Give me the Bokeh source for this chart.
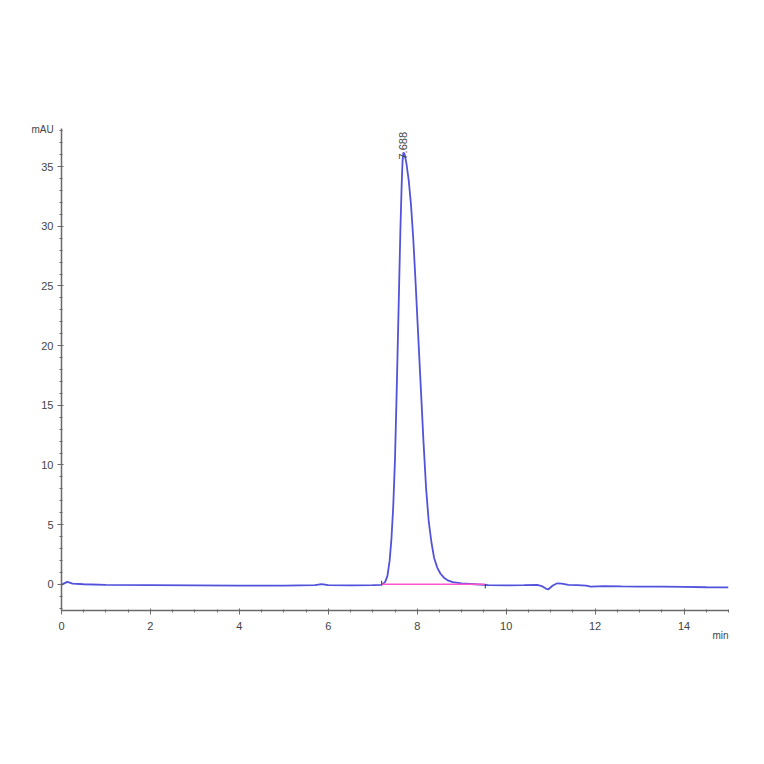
from math import pi

from bokeh.core.properties import value
from bokeh.embed import file_html
from bokeh.models import FixedTicker, Title
from bokeh.plotting import figure
from bokeh.resources import INLINE

# chromatogram trace (min, mAU)
time_min = [0, 0.05, 0.13, 0.25, 0.5, 1, 2, 3, 4, 5, 5.7, 5.85, 6, 6.5, 7.0,
            7.2, 7.28, 7.33, 7.38, 7.42, 7.46, 7.50, 7.54, 7.58, 7.62, 7.65,
            7.67, 7.69, 7.72, 7.76, 7.81, 7.86, 7.91, 7.96, 8.02, 8.08, 8.14,
            8.2, 8.26, 8.32, 8.38, 8.45, 8.52, 8.6, 8.7, 8.8, 9.0, 9.3, 9.6,
            10.0, 10.4, 10.7, 10.8, 10.9, 10.95, 11.05, 11.15, 11.25, 11.4,
            11.6, 11.8, 11.9, 12.2, 12.6, 13, 13.5, 14, 14.5, 15]
signal_mau = [-0.05, 0.05, 0.2, 0.05, 0.0, -0.05, -0.08, -0.1, -0.12, -0.12,
              -0.08, 0.02, -0.08, -0.1, -0.08, -0.05, 0.2, 0.7, 2.0, 3.8, 6.5,
              10.5, 16.5, 23.0, 29.5, 33.5, 35.5, 36.2, 36.0, 35.2, 33.8, 31.8,
              29.0, 25.5, 21.0, 16.5, 12.0, 8.0, 5.2, 3.5, 2.2, 1.4, 0.9, 0.55,
              0.3, 0.18, 0.08, 0.0, -0.08, -0.1, -0.08, -0.05, -0.15, -0.38,
              -0.42, -0.1, 0.08, 0.05, -0.05, -0.08, -0.12, -0.2, -0.15, -0.18,
              -0.2, -0.2, -0.22, -0.25, -0.27]

# peak annotation
peak_times = [7.688]
peak_tops = [35.6]
peak_labels = ["7.688"]

# integration baseline of the peak
base_start = [7.2]
base_end = [9.53]
base_level = [0.0]

x_ticks = [0, 2, 4, 6, 8, 10, 12, 14]
y_ticks = [0, 5, 10, 15, 20, 25, 30, 35]

FONT = "Liberation Sans"
AXIS_COLOR = "#6a6a6a"
TEXT_COLOR = "#444444"

p = figure(width=748, height=748, x_range=(0, 15), y_range=(-2.2, 38.2),
           output_backend="svg", toolbar_location=None,
           min_border_left=61, min_border_right=20,
           min_border_top=128, min_border_bottom=138)
p.outline_line_color = None
p.xgrid.visible = False
p.ygrid.visible = False
p.background_fill_color = "white"

p.xaxis.ticker = FixedTicker(ticks=x_ticks,
                             minor_ticks=[i * 0.5 for i in range(31)])
p.yaxis.ticker = FixedTicker(ticks=y_ticks, minor_ticks=list(range(-2, 39)))

for ax in (p.xaxis[0], p.yaxis[0]):
    ax.axis_line_color = AXIS_COLOR
    ax.axis_line_width = 1.5
    ax.major_tick_line_color = AXIS_COLOR
    ax.minor_tick_line_color = AXIS_COLOR
    ax.major_tick_in = 2
    ax.major_tick_out = 4
    ax.minor_tick_in = 1
    ax.minor_tick_out = 2
    ax.major_label_text_font = FONT
    ax.major_label_text_font_size = "11px"
    ax.major_label_text_color = TEXT_COLOR
p.xaxis.major_label_standoff = 7
p.yaxis.major_label_standoff = 4

p.line(time_min, signal_mau, line_color="#5252dc", line_width=1.8)

p.segment(x0=base_start, y0=base_level, x1=base_end, y1=base_level,
          line_color="#ff55cc", line_width=1.3)
p.segment(x0=base_start, y0=[-0.05], x1=base_start, y1=[0.3],
          line_color="#333333", line_width=1)
p.segment(x0=base_end, y0=[-0.35], x1=base_end, y1=[0.0],
          line_color="#333333", line_width=1)

p.text(x=peak_times, y=peak_tops, text=peak_labels, angle=pi / 2,
       text_align="left", text_baseline="middle",
       text_font=value(FONT), text_font_size="11px", text_color=TEXT_COLOR)

# unit labels outside the frame
p.add_layout(Title(text="mAU", align="left", offset=-30, standoff=-12,
                   text_font=FONT, text_font_size="10px",
                   text_font_style="normal", text_color=TEXT_COLOR), "above")
p.add_layout(Title(text="min", align="right", standoff=-17,
                   text_font=FONT, text_font_size="10px",
                   text_font_style="normal", text_color=TEXT_COLOR), "below")

open("out.html", "w").write(file_html(p, INLINE))
